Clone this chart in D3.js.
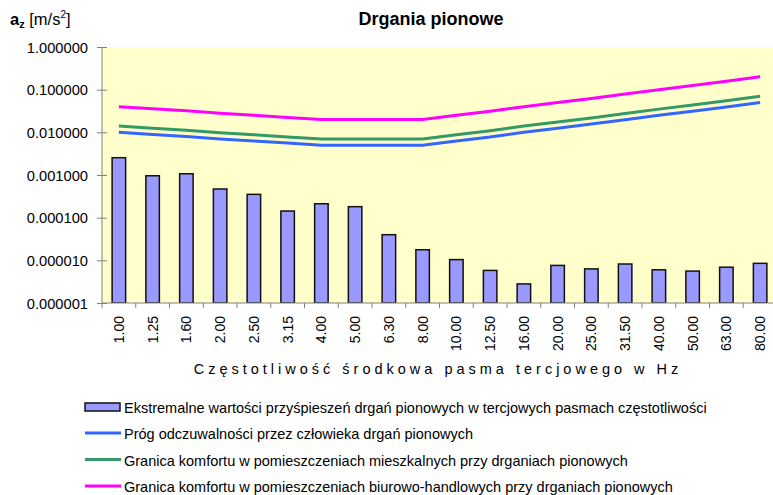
<!DOCTYPE html>
<html lang="pl">
<head>
<meta charset="UTF-8">
<title>Drgania pionowe</title>
<script src="https://d3js.org/d3.v7.min.js"></script>
<style>
  body, html { margin: 0; padding: 0; background: #fff; overflow: hidden; }
  svg { display: block; font-family: 'Liberation Sans', Arial, sans-serif; }
  .axis text { fill: #000; }
  .axis path, .axis line { stroke: #808080; }
</style>
</head>
<body>
<svg id="chart" width="773" height="495"></svg>
<script>
// pasma tercjowe [Hz]
const bands = ["1.00", "1.25", "1.60", "2.00", "2.50", "3.15", "4.00", "5.00", "6.30", "8.00",
               "10.00", "12.50", "16.00", "20.00", "25.00", "31.50", "40.00", "50.00", "63.00", "80.00"];

// ekstremalne wartosci przyspieszen [m/s2]
const measured = [0.00254, 0.00096, 0.00107, 0.00047, 0.000352, 0.000143, 0.000212, 0.000181, 0.0000399, 0.0000177,
                  0.0000104, 0.0000058, 0.0000028, 0.0000076, 0.0000063, 0.0000082, 0.0000060, 0.0000056, 0.0000069, 0.0000085];

// prog odczuwalnosci (krzywa bazowa)
const threshold = [0.01, 0.0089, 0.008, 0.007, 0.0063, 0.0056, 0.005, 0.005, 0.005, 0.005,
                   0.0063, 0.0078, 0.01, 0.0125, 0.0156, 0.0197, 0.025, 0.0313, 0.0394, 0.05];
// granica komfortu - mieszkalne
const residential = [0.014, 0.0125, 0.0112, 0.0098, 0.0088, 0.0078, 0.007, 0.007, 0.007, 0.007,
                     0.0088, 0.0109, 0.014, 0.0175, 0.0218, 0.0276, 0.035, 0.0438, 0.0552, 0.07];
// granica komfortu - biurowo-handlowe
const office = [0.04, 0.0356, 0.032, 0.028, 0.0252, 0.0224, 0.02, 0.02, 0.02, 0.02,
                0.0252, 0.0312, 0.04, 0.05, 0.0624, 0.0788, 0.1, 0.125, 0.158, 0.2];

const yTicks = [0.000001, 0.00001, 0.0001, 0.001, 0.01, 0.1, 1];

const legendLabels = [
  "Ekstremalne wartości przyśpieszeń drgań pionowych w tercjowych pasmach częstotliwości",
  "Próg odczuwalności przez człowieka drgań pionowych",
  "Granica komfortu w pomieszczeniach mieszkalnych przy drganiach pionowych",
  "Granica komfortu w pomieszczeniach biurowo-handlowych przy drganiach pionowych"
];

const lineColors = ["#3366ff", "#339966", "#ff00ff"];

const plotLeft = 102, plotRight = 777, plotTop = 47, plotBottom = 303;

const svg = d3.select("#chart");

const x = d3.scaleBand().domain(bands).range([plotLeft, plotRight]).padding(0);
const y = d3.scaleLog().domain([1e-6, 1]).range([plotBottom, plotTop]);

svg.append("defs").append("clipPath").attr("id", "plot-clip")
  .append("rect").attr("x", plotLeft).attr("y", plotTop)
  .attr("width", plotRight - plotLeft).attr("height", plotBottom - plotTop);

// tlo wykresu
svg.append("rect")
  .attr("x", plotLeft).attr("y", plotTop)
  .attr("width", plotRight - plotLeft).attr("height", plotBottom - plotTop)
  .attr("fill", "#ffffcc");

const plot = svg.append("g").attr("clip-path", "url(#plot-clip)");

// slupki
const barW = x.bandwidth() * 0.4;
plot.selectAll("rect.bar")
  .data(measured)
  .join("rect")
  .attr("class", "bar")
  .attr("x", (d, i) => x(bands[i]) + (x.bandwidth() - barW) / 2)
  .attr("y", d => y(d))
  .attr("width", barW)
  .attr("height", d => plotBottom - y(d))
  .attr("fill", "#9999ff")
  .attr("stroke", "#111")
  .attr("stroke-width", 1.5);

// linie graniczne
const line = d3.line()
  .x((d, i) => x(bands[i]) + x.bandwidth() / 2)
  .y(d => y(d));

[threshold, residential, office].forEach((series, k) => {
  plot.append("path")
    .datum(series)
    .attr("d", line)
    .attr("fill", "none")
    .attr("stroke", lineColors[k])
    .attr("stroke-width", 3)
    .attr("stroke-linejoin", "round");
});

// os Y
const yAxis = svg.append("g")
  .attr("class", "axis")
  .attr("transform", `translate(${plotLeft},0)`)
  .call(d3.axisLeft(y).tickValues(yTicks).tickFormat(d3.format(".6f")).tickSize(5).tickPadding(9));
yAxis.select(".domain").attr("d", `M0,${plotTop}V${plotBottom + 5}`);
yAxis.selectAll(".tick line").attr("x1", 5).attr("x2", -5);
yAxis.selectAll(".tick text").attr("dy", "0.35em").attr("font-size", 14.7);

// os X
const xAxis = svg.append("g")
  .attr("class", "axis")
  .attr("transform", `translate(0,${plotBottom})`);
xAxis.append("line")
  .attr("x1", plotLeft).attr("x2", 773)
  .attr("stroke", "#808080");
xAxis.selectAll("line.tk")
  .data(bands.slice(1))
  .join("line")
  .attr("class", "tk")
  .attr("x1", d => x(d)).attr("x2", d => x(d))
  .attr("y1", 0).attr("y2", 5)
  .attr("stroke", "#808080");
xAxis.selectAll("text")
  .data(bands)
  .join("text")
  .attr("transform", d => `translate(${x(d) + x.bandwidth() / 2 + 5},13) rotate(-90)`)
  .attr("text-anchor", "end")
  .attr("font-size", 14)
  .text(d => d);

// tytuly
svg.append("text")
  .attr("x", 431).attr("y", 25)
  .attr("text-anchor", "middle")
  .attr("font-size", 18)
  .attr("font-weight", "bold")
  .text("Drgania pionowe");

const yLabel = svg.append("text")
  .attr("x", 10).attr("y", 25)
  .attr("font-size", 16.5);
yLabel.append("tspan").attr("font-weight", "bold").text("a");
yLabel.append("tspan").attr("font-weight", "bold").attr("font-size", 11).attr("dy", 3).text("z");
yLabel.append("tspan").attr("dy", -3).text(" [m/s");
yLabel.append("tspan").attr("font-size", 10).attr("dy", -7).text("2");
yLabel.append("tspan").attr("dy", 7).text("]");

svg.append("text")
  .attr("x", 438).attr("y", 374)
  .attr("text-anchor", "middle")
  .attr("font-size", 14.5)
  .attr("letter-spacing", 4)
  .text("Częstotliwość środkowa pasma tercjowego w Hz");

// legenda
const legend = svg.append("g");
legend.append("rect")
  .attr("x", 85).attr("y", 403)
  .attr("width", 35).attr("height", 8)
  .attr("fill", "#9999ff").attr("stroke", "#111").attr("stroke-width", 1.5);
lineColors.forEach((c, k) => {
  legend.append("line")
    .attr("x1", 85).attr("x2", 121)
    .attr("y1", 433 + k * 26.5).attr("y2", 433 + k * 26.5)
    .attr("stroke", c).attr("stroke-width", 3);
});
legend.selectAll("text")
  .data(legendLabels)
  .join("text")
  .attr("x", 124)
  .attr("y", (d, i) => 412.5 + i * 26.5)
  .attr("font-size", 14.5)
  .text(d => d);
</script>
</body>
</html>
